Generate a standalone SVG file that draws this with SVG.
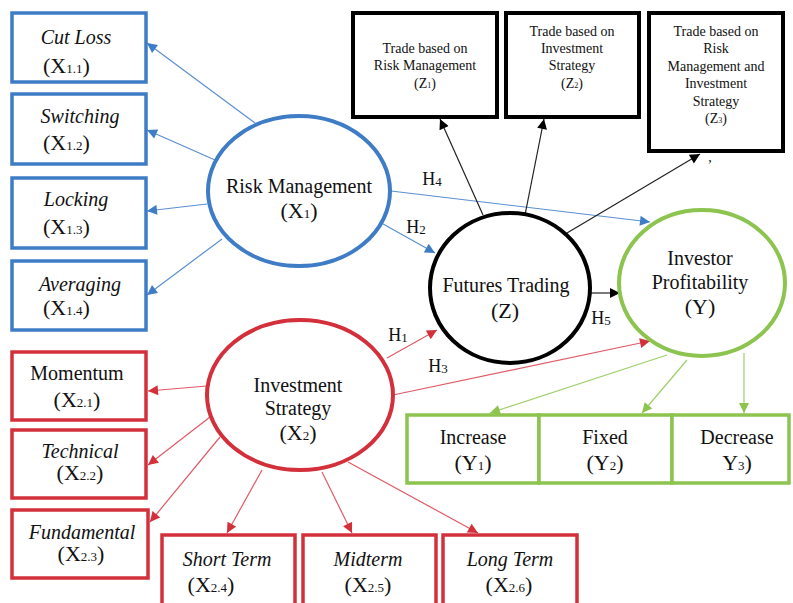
<svg xmlns="http://www.w3.org/2000/svg" width="793" height="603" viewBox="0 0 793 603" font-family="'Liberation Serif', 'Times New Roman', Times, 'DejaVu Serif', serif">
<style>
text{font-family:'Liberation Serif','Times New Roman',Times,'DejaVu Serif',serif;fill:#111;text-anchor:middle}
.t{font-size:20px}
.it{font-size:20px;font-style:italic}
.x{font-size:22px}
.s{font-size:13px}
.z{font-size:14px}
.zs{font-size:8px}
.h{font-size:18px}
.bb{fill:#fff;stroke:#3f7cc6;stroke-width:3.5}
.rb{fill:#fff;stroke:#d3303b;stroke-width:3.5}
.gb{fill:#fff;stroke:#8cc44f;stroke-width:3.5}
.kb{fill:#fff;stroke:#000;stroke-width:4}
.bl{stroke:#5a8fd2;stroke-width:1.2;fill:none;marker-end:url(#ab)}
.rl{stroke:#e05a66;stroke-width:1.2;fill:none;marker-end:url(#ar)}
.gl{stroke:#9fcf6a;stroke-width:1.2;fill:none;marker-end:url(#ag)}
.kl{stroke:#222;stroke-width:1.2;fill:none;marker-end:url(#ak)}
</style>
<defs>
<marker id="ab" viewBox="0 0 10 10" refX="10" refY="5" markerWidth="12" markerHeight="10" markerUnits="userSpaceOnUse" orient="auto"><path d="M0,0L10,5L0,10z" fill="#3f7cc6"/></marker>
<marker id="ar" viewBox="0 0 10 10" refX="10" refY="5" markerWidth="12" markerHeight="10" markerUnits="userSpaceOnUse" orient="auto"><path d="M0,0L10,5L0,10z" fill="#d3303b"/></marker>
<marker id="ag" viewBox="0 0 10 10" refX="10" refY="5" markerWidth="12" markerHeight="10" markerUnits="userSpaceOnUse" orient="auto"><path d="M0,0L10,5L0,10z" fill="#8cc44f"/></marker>
<marker id="ak" viewBox="0 0 10 10" refX="10" refY="5" markerWidth="12" markerHeight="10" markerUnits="userSpaceOnUse" orient="auto"><path d="M0,0L10,5L0,10z" fill="#000"/></marker>
</defs>
<rect width="793" height="603" fill="#fff"/>

<g id="connectors">
<line class="bl" x1="255" y1="123" x2="147" y2="43"/>
<line class="bl" x1="215" y1="160" x2="147" y2="130"/>
<line class="bl" x1="207" y1="204" x2="147" y2="211"/>
<line class="bl" x1="222" y1="239" x2="147" y2="295"/>
<line class="bl" x1="391" y1="191" x2="650" y2="222"/>
<line class="bl" x1="376" y1="220" x2="435" y2="253"/>
<line class="rl" x1="387" y1="358" x2="437" y2="330"/>
<line class="rl" x1="393" y1="395" x2="650" y2="341"/>
<line class="kl" x1="591" y1="293" x2="620" y2="293"/>
<line class="kl" x1="483" y1="215" x2="440" y2="119"/>
<line class="kl" x1="525" y1="215" x2="544" y2="119"/>
<line class="kl" x1="567" y1="233" x2="700" y2="154"/>
<line class="rl" x1="207" y1="386" x2="148" y2="391"/>
<line class="rl" x1="210" y1="417" x2="148" y2="465"/>
<line class="rl" x1="220" y1="437" x2="150" y2="522"/>
<line class="rl" x1="262" y1="470" x2="227" y2="533"/>
<line class="rl" x1="322" y1="472" x2="352" y2="533"/>
<line class="rl" x1="348" y1="462" x2="478" y2="533"/>
<line class="gl" x1="667" y1="355" x2="490" y2="413"/>
<line class="gl" x1="687" y1="360" x2="642" y2="413"/>
<line class="gl" x1="744" y1="353" x2="744" y2="413"/>
<text class="h" x="432" y="185">H<tspan class="s" dy="1">4</tspan></text>
<text class="h" x="416" y="233">H<tspan class="s" dy="1">2</tspan></text>
<text class="h" x="398" y="341">H<tspan class="s" dy="1">1</tspan></text>
<text class="h" x="438" y="372">H<tspan class="s" dy="1">3</tspan></text>
<text class="h" x="601" y="324">H<tspan class="s" dy="1">5</tspan></text>
<text class="z" x="710" y="162">,</text>
</g>

<g id="cutloss"><rect class="bb" x="12" y="13" width="134" height="69"/>
<text class="it" x="76" y="44">Cut Loss</text>
<text class="x" x="43" y="73" style="text-anchor:start">(X<tspan class="s">1.1</tspan>)</text></g>
<g id="switching"><rect class="bb" x="12" y="94" width="134" height="70"/>
<text class="it" x="80" y="123">Switching</text>
<text class="x" x="43" y="150" style="text-anchor:start">(X<tspan class="s">1.2</tspan>)</text></g>
<g id="locking"><rect class="bb" x="12" y="178" width="134" height="70"/>
<text class="it" x="76" y="206">Locking</text>
<text class="x" x="43" y="234" style="text-anchor:start">(X<tspan class="s">1.3</tspan>)</text></g>
<g id="averaging"><rect class="bb" x="12" y="261" width="134" height="69"/>
<text class="it" x="80" y="291">Averaging</text>
<text class="x" x="43" y="315" style="text-anchor:start">(X<tspan class="s">1.4</tspan>)</text></g>

<g id="riskmanagement"><ellipse cx="299" cy="191" rx="91" ry="75" fill="#fff" stroke="#3f7cc6" stroke-width="4"/>
<text class="t" x="299" y="193">Risk Management</text>
<text class="x" x="299" y="218">(X<tspan class="s">1</tspan>)</text></g>

<g id="z1"><rect class="kb" x="353" y="13" width="144" height="104"/>
<text class="z" x="425" y="53">Trade based on</text>
<text class="z" x="425" y="70">Risk Management</text>
<text class="z" x="425" y="88">(Z<tspan class="zs">1</tspan>)</text></g>
<g id="z2"><rect class="kb" x="506" y="13" width="133" height="104"/>
<text class="z" x="572" y="36">Trade based on</text>
<text class="z" x="572" y="53">Investment</text>
<text class="z" x="572" y="70">Strategy</text>
<text class="z" x="572" y="88">(Z<tspan class="zs">2</tspan>)</text></g>
<g id="z3"><rect class="kb" x="649" y="13" width="134" height="138"/>
<text class="z" x="716" y="36">Trade based on</text>
<text class="z" x="716" y="53">Risk</text>
<text class="z" x="716" y="71">Management and</text>
<text class="z" x="716" y="88">Investment</text>
<text class="z" x="716" y="106">Strategy</text>
<text class="z" x="716" y="123">(Z<tspan class="zs">3</tspan>)</text></g>

<g id="futures"><ellipse cx="510" cy="288" rx="80" ry="75" fill="#fff" stroke="#000" stroke-width="4"/>
<text class="t" x="506" y="292">Futures Trading</text>
<text class="x" x="505" y="318">(Z)</text></g>

<g id="profitability"><ellipse cx="702" cy="283" rx="83" ry="73" fill="#fff" stroke="#8cc44f" stroke-width="4"/>
<text class="t" x="700" y="265">Investor</text>
<text class="t" x="700" y="289">Profitability</text>
<text class="x" x="700" y="314">(Y)</text></g>

<g id="increase"><rect class="gb" x="407" y="415" width="132" height="68"/>
<text class="t" x="473" y="444">Increase</text>
<text class="x" x="473" y="470">(Y<tspan class="s">1</tspan>)</text></g>
<g id="fixed"><rect class="gb" x="539" y="415" width="133" height="68"/>
<text class="t" x="605" y="444">Fixed</text>
<text class="x" x="605" y="470">(Y<tspan class="s">2</tspan>)</text></g>
<g id="decrease"><rect class="gb" x="672" y="415" width="117" height="68"/>
<text class="t" x="737" y="444">Decrease</text>
<text class="x" x="737" y="470">Y<tspan class="s">3</tspan>)</text></g>

<g id="investmentstrategy"><ellipse cx="300" cy="395" rx="93" ry="75" fill="#fff" stroke="#d3303b" stroke-width="4"/>
<text class="t" x="298" y="392">Investment</text>
<text class="t" x="298" y="415">Strategy</text>
<text class="x" x="298" y="440">(X<tspan class="s">2</tspan>)</text></g>

<g id="momentum"><rect class="rb" x="12" y="352" width="134" height="68"/>
<text class="t" x="77" y="380">Momentum</text>
<text class="x" x="77" y="407">(X<tspan class="s">2.1</tspan>)</text></g>
<g id="technical"><rect class="rb" x="12" y="430" width="134" height="68"/>
<text class="it" x="80" y="458">Technical</text>
<text class="x" x="80" y="480">(X<tspan class="s">2.2</tspan>)</text></g>
<g id="fundamental"><rect class="rb" x="12" y="510" width="136" height="68"/>
<text class="it" x="82" y="539">Fundamental</text>
<text class="x" x="81" y="561">(X<tspan class="s">2.3</tspan>)</text></g>
<g id="shortterm"><rect class="rb" x="162" y="535" width="133" height="80"/>
<text class="it" x="227" y="566">Short Term</text>
<text class="x" x="211" y="592">(X<tspan class="s">2.4</tspan>)</text></g>
<g id="midterm"><rect class="rb" x="303" y="535" width="133" height="80"/>
<text class="it" x="368" y="566">Midterm</text>
<text class="x" x="368" y="592">(X<tspan class="s">2.5</tspan>)</text></g>
<g id="longterm"><rect class="rb" x="443" y="535" width="134" height="80"/>
<text class="it" x="510" y="566">Long Term</text>
<text class="x" x="509" y="592">(X<tspan class="s">2.6</tspan>)</text></g>
</svg>
